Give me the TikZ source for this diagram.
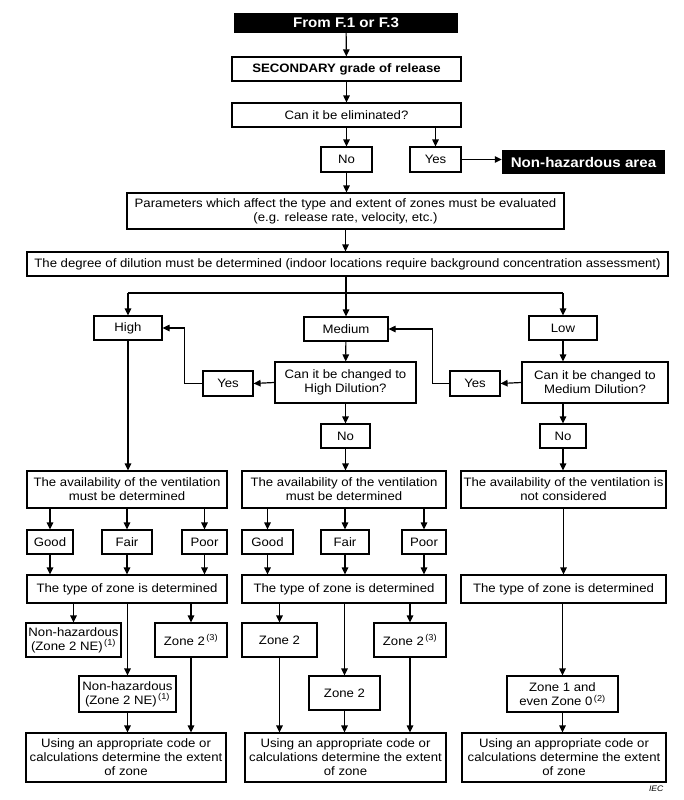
\documentclass[tikz,border=0pt]{standalone}
\usepackage{fontspec}
\setmainfont{Liberation Sans}[FakeStretch=1.08]
\usepackage{tikz}
\usetikzlibrary{calc,positioning,arrows.meta}
\newcommand{\flowfont}{\fontsize{12.2}{14}\selectfont}
\newcommand{\note}[1]{\textsuperscript{\,(#1)}}

\begin{document}
\begin{tikzpicture}[x=1pt, y=-1pt,
  box/.style={draw, line width=1.2pt, fill=white, align=center, inner sep=0pt, font=\flowfont},
  blackbox/.style={fill=black, text=white, inner sep=0pt, font=\bfseries\fontsize{14}{16}\selectfont},
  arr/.style={-{Triangle[length=7pt, width=6.5pt]}, line width=1.2pt},
  plain/.style={line width=1.2pt}]
  \useasboundingbox (0,0) rectangle (683,800);

  % Top of the chart
  \node[blackbox, minimum width=224pt, minimum height=20pt] (from) at (346,23) {From F.1 or F.3};
  \node[box, font=\flowfont\bfseries, minimum width=229pt, minimum height=24pt] (secondary) at (346.5,69) {SECONDARY grade of release};
  \node[box, minimum width=229pt, minimum height=24pt] (elim) at (346.5,115) {Can it be eliminated?};
  \node[box, minimum width=51pt, minimum height=25pt] (elimno) at (346.5,159.5) {No};
  \node[box, minimum width=51pt, minimum height=25pt] (elimyes) at (435.5,159.5) {Yes};
  \node[blackbox, minimum width=163pt, minimum height=24pt] (nonhaz) at (583.5,162) {Non-hazardous area};

  \node[box, minimum width=437pt, minimum height=36pt] (param) at (345.5,211) {Parameters which affect the type and extent of zones must be evaluated\\(e.g. release rate, velocity, etc.)};
  \node[box, minimum width=641pt, minimum height=24pt] (dilution) at (347.5,264) {The degree of dilution must be determined (indoor locations require background concentration assessment)};
  \coordinate (split) at (346,293);

  % Degree of dilution
  \node[box, minimum width=68pt, minimum height=24pt] (high) at (128,328) {High};
  \node[box, minimum width=84pt, minimum height=24pt] (medium) at (346,329) {Medium};
  \node[box, minimum width=68pt, minimum height=24pt] (low) at (563,328) {Low};
  \node[box, minimum width=141pt, minimum height=41pt] (tohigh) at (345.5,382.5) {Can it be changed to\\High Dilution?};
  \node[box, minimum width=50pt, minimum height=25pt] (tohighyes) at (228,383.5) {Yes};
  \node[box, minimum width=146pt, minimum height=41pt] (tomedium) at (595,382.5) {Can it be changed to\\Medium Dilution?};
  \node[box, minimum width=50pt, minimum height=25pt] (tomediumyes) at (475,383.5) {Yes};
  \node[box, minimum width=49pt, minimum height=24pt] (tohighno) at (345.5,436) {No};
  \node[box, minimum width=46pt, minimum height=24pt] (tomediumno) at (563,436) {No};

  % Availability of the ventilation
  \node[box, minimum width=200pt, minimum height=37pt] (ventleft) at (127,489.5) {The availability of the ventilation\\must be determined};
  \node[box, minimum width=204pt, minimum height=37pt] (ventmid) at (344,489.5) {The availability of the ventilation\\must be determined};
  \node[box, minimum width=205pt, minimum height=37pt] (ventright) at (563.5,489.5) {The availability of the ventilation is\\not considered};
  \node[box, minimum width=46pt, minimum height=24pt] (goodleft) at (50,542) {Good};
  \node[box, minimum width=50pt, minimum height=24pt] (fairleft) at (127,542) {Fair};
  \node[box, minimum width=45pt, minimum height=24pt] (poorleft) at (204.5,542) {Poor};
  \node[box, minimum width=51pt, minimum height=24pt] (goodmid) at (267.5,542) {Good};
  \node[box, minimum width=48pt, minimum height=24pt] (fairmid) at (345,542) {Fair};
  \node[box, minimum width=44pt, minimum height=24pt] (poormid) at (424,542) {Poor};

  % Type of zone
  \node[box, minimum width=200pt, minimum height=28pt] (zoneleft) at (127,589) {The type of zone is determined};
  \node[box, minimum width=204pt, minimum height=28pt] (zonemid) at (344,589) {The type of zone is determined};
  \node[box, minimum width=205pt, minimum height=28pt] (zoneright) at (563.5,589) {The type of zone is determined};
  \node[box, minimum width=95pt, minimum height=34pt] (nhgood) at (73.5,640) {Non-hazardous\\(Zone 2 NE)\note{1}};
  \node[box, minimum width=72pt, minimum height=34pt] (ztwopoorleft) at (191,640) {Zone 2\note{3}};
  \node[box, minimum width=75pt, minimum height=34pt] (ztwogood) at (279.5,640) {Zone 2};
  \node[box, minimum width=72pt, minimum height=34pt] (ztwopoormid) at (410,640) {Zone 2\note{3}};
  \node[box, minimum width=97pt, minimum height=36pt] (nhfair) at (127.5,694) {Non-hazardous\\(Zone 2 NE)\note{1}};
  \node[box, minimum width=71pt, minimum height=34pt] (ztwofair) at (344.5,693) {Zone 2};
  \node[box, minimum width=111pt, minimum height=36pt] (zoneone) at (562.5,694) {Zone 1 and\\even Zone 0\note{2}};

  % Extent of zone
  \node[box, minimum width=200pt, minimum height=49pt] (extleft) at (126,757.5) {Using an appropriate code or\\calculations determine the extent\\of zone};
  \node[box, minimum width=201pt, minimum height=49pt] (extmid) at (345.5,757.5) {Using an appropriate code or\\calculations determine the extent\\of zone};
  \node[box, minimum width=204pt, minimum height=49pt] (extright) at (564,757.5) {Using an appropriate code or\\calculations determine the extent\\of zone};
  \node[font=\itshape\fontsize{8}{9}\selectfont, anchor=east] (iec) at (667,789) {IEC};

  % Connectors, top
  \draw[arr] (from) -- (secondary);
  \draw[arr] (secondary) -- (elim);
  \draw[arr] (elim.south -| elimno) -- (elimno.north);
  \draw[arr] (elim.south -| elimyes) -- (elimyes.north);
  \draw[arr] (elimyes.east) -- (elimyes.east -| nonhaz.west);
  \draw[arr] (elimno.south) -- (elimno.south |- param.north);
  \draw[arr] (param.south) -- (param.south |- dilution.north);
  \draw[arr] (dilution.south -| medium) -- (medium.north);
  \draw[plain] (split -| high) -- (split -| low);
  \draw[arr] (split -| high) -- (high.north);
  \draw[arr] (split -| low) -- (low.north);

  % Connectors, dilution
  \draw[arr] (medium) -- (tohigh);
  \draw[arr] (tohigh.west) -- (tohighyes.east);
  \draw[arr] (tohighyes.west) -- ++(-18,0) |- (high.east);
  \draw[arr] (low.south) -- (low.south |- tomedium.north);
  \draw[arr] (tomedium.west) -- (tomediumyes.east);
  \draw[arr] (tomediumyes.west) -- ++(-17,0) |- (medium.east);
  \draw[arr] (tohigh.south -| tohighno) -- (tohighno.north);
  \draw[arr] (tomedium.south -| tomediumno) -- (tomediumno.north);
  \draw[arr] (high.south) -- (high.south |- ventleft.north);
  \draw[arr] (tohighno.south) -- (tohighno.south |- ventmid.north);
  \draw[arr] (tomediumno.south) -- (tomediumno.south |- ventright.north);

  % Connectors, ventilation
  \foreach \v/\z in {left/left, mid/mid}{
    \foreach \g in {good, fair, poor}{
      \draw[arr] (vent\v.south -| \g\v) -- (\g\v.north);
      \draw[arr] (\g\v.south) -- (\g\v.south |- zone\z.north);
    }
  }
  \draw[arr] (ventright) -- (zoneright);

  % Connectors, zones
  \draw[arr] (zoneleft.south -| nhgood) -- (nhgood.north);
  \draw[arr] (zoneleft.south -| ztwopoorleft) -- (ztwopoorleft.north);
  \draw[arr] (zoneleft.south -| nhfair) -- (nhfair.north);
  \draw[arr] (nhfair.south) -- (nhfair.south |- extleft.north);
  \draw[arr] (ztwopoorleft.south) -- (ztwopoorleft.south |- extleft.north);
  \draw[arr] (zonemid.south -| ztwogood) -- (ztwogood.north);
  \draw[arr] (zonemid.south -| ztwofair) -- (ztwofair.north);
  \draw[arr] (zonemid.south -| ztwopoormid) -- (ztwopoormid.north);
  \draw[arr] (ztwogood.south) -- (ztwogood.south |- extmid.north);
  \draw[arr] (ztwofair.south) -- (ztwofair.south |- extmid.north);
  \draw[arr] (ztwopoormid.south) -- (ztwopoormid.south |- extmid.north);
  \draw[arr] (zoneright.south -| zoneone) -- (zoneone.north);
  \draw[arr] (zoneone.south) -- (zoneone.south |- extright.north);

\end{tikzpicture}
\end{document}
